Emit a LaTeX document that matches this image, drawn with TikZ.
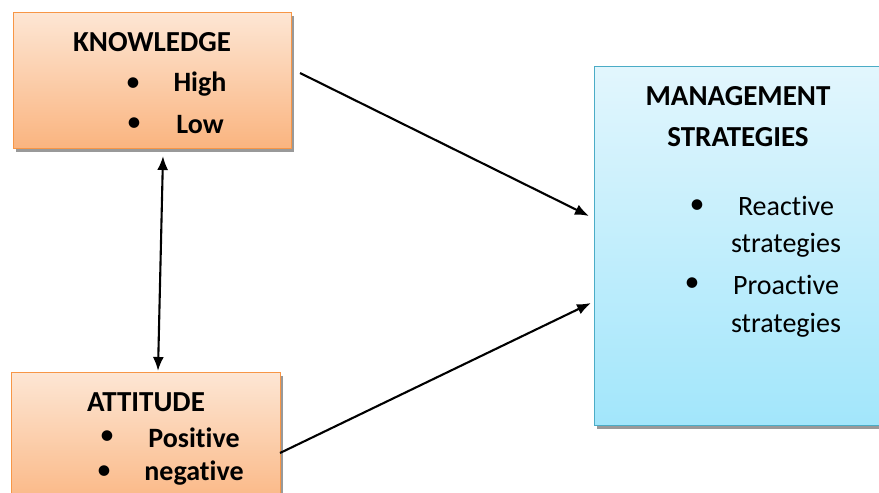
\documentclass[tikz,border=0pt]{standalone}
\usepackage{fontspec}
\setmainfont[RawFeature={-liga;-calt;-clig;-dlig}]{Carlito}
\usetikzlibrary{arrows.meta,shadows}
\definecolor{oborder}{HTML}{F79646}
\definecolor{otop}{HTML}{FDE6D4}
\definecolor{obot}{HTML}{FAB47F}
\definecolor{bborder}{HTML}{4BACC6}
\definecolor{btop}{HTML}{E2F6FD}
\definecolor{bbot}{HTML}{A2E6FB}
\tikzset{
  obox/.style={draw=oborder, line width=1.4pt, top color=otop, bottom color=obot, anchor=north west, inner sep=0pt, drop shadow={shadow xshift=2pt, shadow yshift=-3pt, fill=black!40, opacity=1}},
  bbox/.style={draw=bborder, line width=1.4pt, top color=btop, bottom color=bbot, anchor=north west, inner sep=0pt, drop shadow={shadow xshift=2pt, shadow yshift=-3pt, fill=black!40, opacity=1}},
  head/.style={font=\fontsize{29}{34}\selectfont\bfseries, inner sep=0pt},
  itemb/.style={font=\fontsize{28}{34}\selectfont\bfseries, inner sep=0pt},
  itemr/.style={font=\fontsize{28}{34}\selectfont, inner sep=0pt},
  bul/.style={font=\fontsize{30}{34}\selectfont, inner sep=0pt},
  conn/.style={line width=2.1pt, -{Latex[length=14pt,width=11pt]}},
}
\begin{document}
\begin{tikzpicture}[x=1pt,y=-1pt]
\useasboundingbox (0,0) rectangle (879,493);
\clip (0,0) rectangle (879,493);
% boxes
\node[obox, minimum width=278pt, minimum height=136pt] (know) at (13,12) {};
\node[obox, minimum width=269pt, minimum height=140pt] (att) at (11,372) {};
\node[bbox, minimum width=300pt, minimum height=359pt] (mgmt) at (594,66) {};
% knowledge text
\node[head] (kt) at (152,42) {KNOWLEDGE};
\node[bul] (kb1) at (133,85) {•};
\node[itemb] (k1) at (200,84) {High};
\node[bul] (kb2) at (134,125) {•};
\node[itemb] (k2) at (200,125) {Low};
% attitude text
\node[head] (at) at (146,402) {ATTITUDE};
\node[bul] (ab1) at (107,438) {•};
\node[itemb] (a1) at (194,438) {Positive};
\node[bul] (ab2) at (104,473) {•};
\node[itemb] (a2) at (194,473) {negative};
% management text
\node[head] (mt1) at (738,96) {MANAGEMENT};
\node[head] (mt2) at (738,137) {STRATEGIES};
\node[bul] (mb1) at (697,207) {•};
\node[itemr] (m1) at (786,206) {Reactive};
\node[itemr] (m2) at (786,245) {strategies};
\node[bul] (mb2) at (692,285) {•};
\node[itemr] (m3) at (786,285) {Proactive};
\node[itemr] (m4) at (786,325) {strategies};
% connector endpoints
\coordinate (k0) at (300,73);
\coordinate (k9) at (589,216);
\coordinate (a0) at (280,453);
\coordinate (a9) at (591,303);
\coordinate (d0) at (163,156);
\coordinate (d9) at (158,371);
\draw[conn] (k0) -- (k9);
\draw[conn] (a0) -- (a9);
\draw[line width=2.1pt, {Latex[length=14pt,width=11pt]}-{Latex[length=14pt,width=11pt]}] (d0) -- (d9);
\end{tikzpicture}
\end{document}
